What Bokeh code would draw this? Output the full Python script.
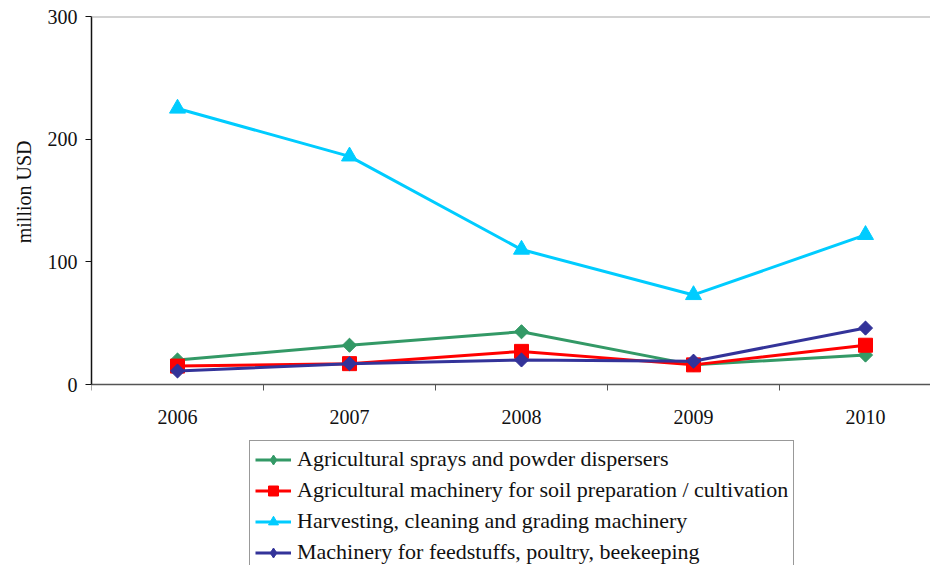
import numpy as np
from bokeh.plotting import figure
from bokeh.models import (Range1d, FixedTicker, Span, Legend, LegendItem, Title)
from bokeh.embed import file_html
from bokeh.resources import INLINE

years = ["2006", "2007", "2008", "2009", "2010"]
sprays = [20, 32, 43, 16, 24]
soil = [15, 17, 27, 16, 32]
harvesting = [225, 186, 110, 73, 122]
feedstuffs = [11, 17, 20, 19, 46]

series_names = [
    "Agricultural sprays and powder dispersers",
    "Agricultural machinery for soil preparation / cultivation",
    "Harvesting, cleaning and grading machinery",
    "Machinery for feedstuffs, poultry, beekeeping",
]
colors = ["#339966", "#FF0000", "#00CCFF", "#333399"]

FONT = "Liberation Serif"

x = list(range(len(years)))

W, H = 930, 565
LEFT, TOP = 91, 16
ZERO_PX = 384            # pixel row of value 0
PX_PER_UNIT = (ZERO_PX - TOP) / 300.0
y_start = -(H - ZERO_PX) / PX_PER_UNIT
x_end = -0.5 + (W - LEFT) / 172.0

p = figure(width=W, height=H, output_backend="svg", toolbar_location=None,
           x_range=Range1d(-0.5, x_end), y_range=Range1d(y_start, 300),
           min_border_left=LEFT, min_border_right=0, min_border_top=TOP,
           min_border_bottom=0)
p.outline_line_color = None
p.xgrid.visible = False
p.ygrid.visible = False

# x axis, drawn at value 0
p.xaxis.fixed_location = 0
p.xaxis.ticker = FixedTicker(ticks=x, minor_ticks=[-0.5, 0.5, 1.5, 2.5, 3.5, 4.5])
p.xaxis.major_label_overrides = {i: y for i, y in enumerate(years)}
p.xaxis.major_tick_line_color = None
p.xaxis.minor_tick_line_color = "#555555"
p.xaxis.minor_tick_out = 6
p.xaxis.minor_tick_in = 0
p.xaxis.axis_line_color = "#555555"
p.xaxis.axis_line_width = 1.5
p.xaxis.major_label_standoff = 19
p.xaxis.major_label_text_font = FONT
p.xaxis.major_label_text_font_size = "20px"
p.xaxis.major_label_text_color = "#111111"

# y axis
p.yaxis.ticker = FixedTicker(ticks=[0, 100, 200, 300], minor_ticks=[])
p.yaxis.bounds = (0, 300)
p.yaxis.major_tick_out = 6
p.yaxis.major_tick_in = 0
p.yaxis.axis_line_color = "#111111"
p.yaxis.axis_line_width = 1.5
p.yaxis.major_tick_line_color = "#111111"
p.yaxis.major_label_standoff = 8
p.yaxis.major_label_text_font = FONT
p.yaxis.major_label_text_font_size = "20px"
p.yaxis.major_label_text_color = "#111111"

ytitle = Title(text="million USD", align="right", offset=124, vertical_align="top",
               text_font=FONT, text_font_style="normal", text_font_size="20px",
               text_color="#111111", standoff=16)
p.add_layout(ytitle, "left")

p.add_layout(Span(location=300, dimension="width", line_color="#A6A6A6", line_width=2))

data = [sprays, soil, harvesting, feedstuffs]
items = []
for i, (vals, name, c) in enumerate(zip(data, series_names, colors)):
    ln = p.line(x, vals, line_color=c, line_width=3)
    if i == 0 or i == 3:
        # diamond (used by the legend) hidden under a rotated square
        leg_sc = p.scatter(x, vals, marker="diamond", size=13,
                           fill_color=c, line_color=c)
        p.scatter(x, vals, marker="square", size=10, angle=np.pi / 4,
                  fill_color=c, line_color=c)
    elif i == 1:
        leg_sc = p.scatter(x, vals, marker="square", size=14, fill_color=c, line_color=c)
    else:
        leg_sc = p.scatter(x, vals, marker="triangle", size=16, fill_color=c, line_color=c)
    items.append(LegendItem(label=name, renderers=[ln, leg_sc]))

LEG_H = 5 * 2 + 4 * 25 + 3 * 5
legend = Legend(items=items, location=(158, H - (446 + LEG_H)),
                label_text_font=FONT, label_text_font_size="22px",
                label_text_color="#111111",
                glyph_width=36, glyph_height=25, label_height=25,
                label_standoff=6, spacing=5, padding=5, margin=0,
                border_line_color="#333333", border_line_width=1,
                background_fill_color="white", background_fill_alpha=1.0)
p.add_layout(legend, "center")

open("out.html", "w").write(file_html(p, INLINE))
